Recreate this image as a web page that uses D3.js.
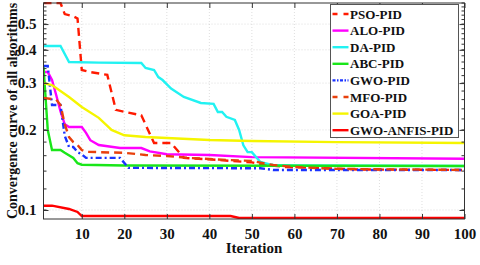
<!DOCTYPE html>
<html>
<head>
<meta charset="utf-8">
<script src="https://cdn.jsdelivr.net/npm/d3@7"></script>
<style>
  body { margin: 0; background: #fff; }
  svg { display: block; }
  svg text { font-family: "Liberation Serif", "Times New Roman", serif; font-weight: bold; }
</style>
</head>
<body>
<svg id="chart" width="480" height="265"></svg>
<script>
// series names (legend order)
const names = ["PSO-PID", "ALO-PID", "DA-PID", "ABC-PID", "GWO-PID", "MFO-PID", "GOA-PID", "GWO-ANFIS-PID"];
const colors = ["#ff1a00", "#ff00ff", "#22f2f2", "#19e619", "#1a33ff", "#e8400c", "#f5f500", "#ff0000"];
const dashes = ["8,5", null, null, null, "6,3,2,3", "8,5", null, null];

// convergence values: [iteration, value]
const psoPid = [[1,.6],[5,.6],[6,.545],[8,.535],[9,.525],[10,.336],[12,.33],[16,.322],[18,.238],[20,.234],[24,.227],[27,.1786],[31,.1786],[34,.157],[40,.155],[45,.153],[50,.151],[53,.148],[58,.145],[65,.144],[75,.142],[100,.1414]];
const aloPid = [[1,.33],[2,.33],[3,.308],[4,.27],[5,.235],[6,.21],[7,.205],[10,.205],[11,.195],[12,.183],[14,.1755],[19,.171],[24,.171],[26,.166],[30,.162],[40,.161],[50,.158],[100,.1558]];
const daPid = [[1,.4135],[5,.4135],[7,.36],[14,.358],[24,.357],[25,.342],[27,.336],[28,.316],[29,.308],[31,.286],[34,.266],[38,.2525],[41,.2506],[42,.2336],[43,.2336],[44,.224],[46,.218],[47,.2],[48,.175],[49,.165],[50,.165],[52,.1515],[54,.1488],[55,.1476],[60,.147],[100,.1463]];
const abcPid = [[1,.345],[2,.2],[3,.168],[5,.168],[6,.164],[8,.157],[9,.15],[10,.148],[20,.147],[100,.1463]];
const gwoPid = [[1,.348],[2,.348],[3,.248],[5,.248],[6,.19],[7,.1726],[8,.1726],[9,.165],[10,.162],[11,.157],[19,.157],[21,.144],[52,.1435],[55,.1414],[100,.1414]];
const mfoPid = [[1,.264],[4,.26],[5,.248],[6,.21],[7,.188],[8,.18],[9,.1755],[10,.168],[11,.1655],[20,.164],[25,.161],[30,.1596],[35,.157],[40,.1555],[45,.154],[50,.153],[55,.1476],[60,.1451],[65,.1439],[70,.1427],[100,.1414]];
const goaPid = [[1,.3],[3,.295],[7,.266],[10,.244],[14,.222],[16,.207],[17,.2],[20,.191],[25,.188],[30,.1866],[40,.1834],[50,.1818],[70,.18],[100,.1786]];
const gwoAnfisPid = [[1,.1038],[3,.1038],[7,.1009],[9,.0983],[10,.0949],[45,.0949],[47,.0933],[100,.0933]];
const series = [psoPid, aloPid, daPid, abcPid, gwoPid, mfoPid, goaPid, gwoAnfisPid];

const xTicks = [10, 20, 30, 40, 50, 60, 70, 80, 90, 100];
const yTicks = [0.1, 0.2, 0.3, 0.4, 0.5];
const yMinor = d3.range(0.1, 0.601, 0.02);

const pLeft = 43.5, pRight = 464.5, pTop = 3, pBottom = 219;
const serif = "Liberation Serif, Times New Roman, serif";
let svg = d3.select("#chart");
let x = d3.scaleLinear().domain([1, 100]).range([pLeft, pRight]);
let y = d3.scaleLog().domain([0.0925, 0.6]).range([pBottom, pTop]);

// grid
let grid = svg.append("g").attr("stroke", "#c8c8c8").attr("stroke-width", 0.6).attr("stroke-dasharray", "1,2");
grid.selectAll(".gx").data(xTicks).join("line")
  .attr("x1", d => x(d)).attr("x2", d => x(d)).attr("y1", pTop).attr("y2", pBottom);
grid.selectAll(".gy").data(yTicks).join("line")
  .attr("x1", pLeft).attr("x2", pRight).attr("y1", d => y(d)).attr("y2", d => y(d));

// lines
svg.append("clipPath").attr("id", "clip").append("rect")
  .attr("x", pLeft).attr("y", pTop - 1).attr("width", pRight - pLeft).attr("height", pBottom - pTop + 1);
let line = d3.line().x(d => x(d[0])).y(d => y(d[1]));
let lines = svg.append("g").attr("clip-path", "url(#clip)");
series.forEach((s, i) => {
  lines.append("path").attr("d", line(s))
    .attr("fill", "none").attr("stroke", colors[i]).attr("stroke-width", 2.4)
    .attr("stroke-dasharray", dashes[i]);
});

// axes (ticks inward, box)
let ax = svg.append("g");
let xb = ax.append("g").attr("transform", `translate(0,${pBottom})`)
  .call(d3.axisBottom(x).tickValues(xTicks).tickSize(-5).tickPadding(9).tickFormat(d3.format("d")));
let xt = ax.append("g").attr("transform", `translate(0,${pTop})`)
  .call(d3.axisTop(x).tickValues(xTicks).tickSize(-5).tickFormat(""));
let yl = ax.append("g").attr("transform", `translate(${pLeft},0)`)
  .call(d3.axisLeft(y).tickValues(yTicks).tickSize(-5).tickPadding(7).tickFormat(d3.format(".1f")));
let yr = ax.append("g").attr("transform", `translate(${pRight},0)`)
  .call(d3.axisRight(y).tickValues(yTicks).tickSize(-5).tickFormat(""));
[xb, xt, yl, yr].forEach(g => g.attr("font-family", serif).attr("font-size", 15).attr("font-weight", "bold"));
[yl, yr].forEach((g, k) => {
  g.selectAll(".minor").data(yMinor).join("line").attr("class", "minor")
    .attr("x1", 0).attr("x2", k === 0 ? 3 : -3).attr("y1", d => y(d)).attr("y2", d => y(d))
    .attr("stroke", "#333");
});
ax.selectAll(".domain").remove();
ax.selectAll("text").attr("fill", "#111");
ax.selectAll(".tick line").attr("stroke", "#333");
svg.append("rect").attr("x", pLeft).attr("y", pTop).attr("width", pRight - pLeft).attr("height", pBottom - pTop)
  .attr("fill", "none").attr("stroke", "#333").attr("stroke-width", 1);

// labels
svg.append("text").attr("x", (pLeft + pRight) / 2).attr("y", 253).attr("text-anchor", "middle")
  .attr("font-family", serif).attr("font-weight", "bold")
  .attr("font-size", 15).attr("fill", "#111").text("Iteration");
svg.append("text").attr("transform", `translate(17,${(pTop + pBottom) / 2}) rotate(-90)`).attr("text-anchor", "middle")
  .attr("font-family", serif).attr("font-weight", "bold")
  .attr("font-size", 14).attr("fill", "#111").text("Convergence curve of all algorithms");

// legend
let lg = svg.append("g").attr("transform", "translate(330.5,4.5)");
lg.append("rect").attr("width", 128).attr("height", 133).attr("fill", "#fff").attr("stroke", "#555");
names.forEach((n, i) => {
  let yy = 9.5 + i * 16.6;
  lg.append("line").attr("x1", 2).attr("x2", 18).attr("y1", yy).attr("y2", yy)
    .attr("stroke", colors[i]).attr("stroke-width", 2.4).attr("stroke-dasharray", dashes[i] ? (i === 4 ? "3,1.5,1.5,1.5" : "5,6") : null);
  lg.append("text").attr("x", 19.5).attr("y", yy + 4.5)
    .attr("font-family", serif).attr("font-weight", "bold")
    .attr("font-size", 13).attr("fill", "#111").text(n);
});
</script>
</body>
</html>
